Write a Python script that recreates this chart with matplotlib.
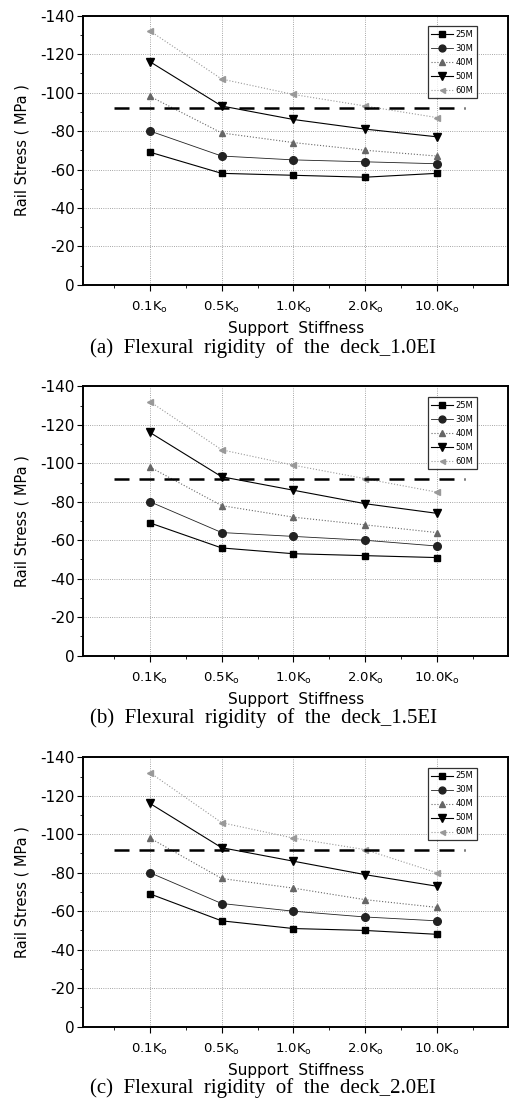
import matplotlib
matplotlib.use('Agg')
import matplotlib.pyplot as plt
import numpy as np

plt.rcParams['axes.unicode_minus'] = False

stiffness = ['0.1K$_\\mathregular{o}$', '0.5K$_\\mathregular{o}$', '1.0K$_\\mathregular{o}$',
             '2.0K$_\\mathregular{o}$', '10.0K$_\\mathregular{o}$']
spans = ['25M', '30M', '40M', '50M', '60M']
limit_stress = -92

# rail stress (MPa) for each span, per deck rigidity
stress_10EI = [[-69, -58, -57, -56, -58],
               [-80, -67, -65, -64, -63],
               [-98, -79, -74, -70, -67],
               [-116, -93, -86, -81, -77],
               [-132, -107, -99, -93, -87]]
stress_15EI = [[-69, -56, -53, -52, -51],
               [-80, -64, -62, -60, -57],
               [-98, -78, -72, -68, -64],
               [-116, -93, -86, -79, -74],
               [-132, -107, -99, -92, -85]]
stress_20EI = [[-69, -55, -51, -50, -48],
               [-80, -64, -60, -57, -55],
               [-98, -77, -72, -66, -62],
               [-116, -93, -86, -79, -73],
               [-132, -106, -98, -92, -80]]
captions = ['(a)  Flexural  rigidity  of  the  deck_1.0EI',
            '(b)  Flexural  rigidity  of  the  deck_1.5EI',
            '(c)  Flexural  rigidity  of  the  deck_2.0EI']

styles = [dict(color='black', marker='s', ls='-', lw=0.8, ms=5),
          dict(color='#222222', marker='o', ls='-', lw=0.6, ms=5.5),
          dict(color='#666666', marker='^', ls=':', lw=0.8, ms=5),
          dict(color='black', marker='v', ls='-', lw=0.8, ms=6),
          dict(color='#999999', marker='<', ls=':', lw=0.8, ms=4)]

fig = plt.figure(figsize=(5.11, 11.11), dpi=100)
bottoms = [0.7435, 0.4098, 0.0759]
cap_y = [0.687, 0.3535, 0.0207]
x = np.arange(1, 6)

for k, data in enumerate([stress_10EI, stress_15EI, stress_20EI]):
    ax = fig.add_axes([0.163, bottoms[k], 0.832, 0.2425])
    for i in range(len(spans)):
        ax.plot(x, data[i], label=spans[i], **styles[i])
    ax.plot([0.5, 5.4], [limit_stress, limit_stress], color='black', ls=(0, (6, 4)), lw=1.8)
    ax.set_xlim(0.07, 6.0)
    ax.set_ylim(0, -140)
    ax.set_xticks(x)
    ax.set_xticklabels(stiffness, fontsize=9.5)
    ax.set_xticks(np.arange(0.5, 6, 1), minor=True)
    ax.set_yticks(np.arange(0, -141, -20))
    ax.set_yticks(np.arange(0, -141, -10), minor=True)
    ax.tick_params(axis='y', labelsize=11, pad=2)
    ax.tick_params(which='both', direction='out', length=4)
    ax.tick_params(which='minor', length=2.5)
    ax.tick_params(axis='x', pad=7)
    ax.grid(True, which='major', ls=':', color='#888888', lw=0.6)
    for s in ax.spines.values():
        s.set_linewidth(1.4)
    ax.set_xlabel('Support  Stiffness', fontsize=11, labelpad=4)
    ax.set_ylabel('Rail Stress ( MPa )', fontsize=10.5, labelpad=8)
    leg = ax.legend(loc='upper right', fontsize=6, frameon=True, fancybox=False,
                    edgecolor='black', handlelength=2.6, labelspacing=0.6,
                    borderpad=0.4, handletextpad=0.3, markerscale=0.9,
                    bbox_to_anchor=(0.935, 0.975))
    leg.get_frame().set_linewidth(0.9)
    fig.text(0.515, cap_y[k], captions[k], ha='center', va='center',
             fontsize=15, family='Liberation Serif')

fig.savefig('out.png', dpi=100)
